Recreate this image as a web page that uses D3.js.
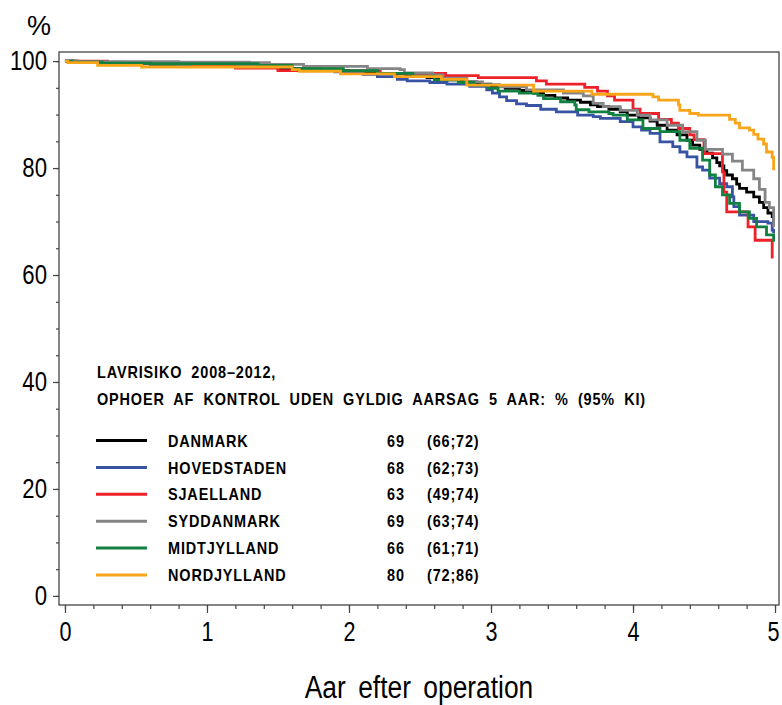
<!DOCTYPE html>
<html>
<head>
<meta charset="utf-8">
<script src="https://cdn.jsdelivr.net/npm/d3@7"></script>
<style>
body { margin: 0; background: #fff; overflow: hidden; }
svg text { font-family: "Liberation Sans", Arial, sans-serif; fill: #000; }
</style>
</head>
<body>
<svg id="chart"></svg>
<script>
// regions, in legend order
const regions = ['DANMARK', 'HOVEDSTADEN', 'SJAELLAND', 'SYDDANMARK', 'MIDTJYLLAND', 'NORDJYLLAND'];
const estimates = ['69', '68', '63', '69', '66', '80'];
const intervals = ['(66;72)', '(62;73)', '(49;74)', '(63;74)', '(61;71)', '(72;86)'];
const colors = ['#000000', '#3953a4', '#ee2129', '#858585', '#128040', '#f9a51a'];

const legendTitle = ['LAVRISIKO 2008\u20132012,', 'OPHOER AF KONTROL UDEN GYLDIG AARSAG 5 AAR: % (95% KI)'];
const xTicks = [0, 1, 2, 3, 4, 5];
const yTicks = [0, 20, 40, 60, 80, 100];

// [years after operation, % still in control]
const danmark = [[0,100],[0.08,99.8],[0.3,99.6],[0.6,99.4],[0.9,99.2],[1.2,98.9],[1.5,98.6],[1.8,98.2],[2.0,97.9],[2.2,97.6],[2.4,97.2],[2.55,96.9],[2.7,96.5],[2.8,96.1],[2.9,95.7],[3.0,95.3],[3.1,94.9],[3.2,94.5],[3.3,94.0],[3.37,93.6],[3.45,93.1],[3.54,92.7],[3.63,92.3],[3.7,91.8],[3.75,91.5],[3.83,91.0],[3.91,90.5],[3.96,89.9],[4.04,89.4],[4.12,88.8],[4.17,88.0],[4.24,87.1],[4.31,86.2],[4.38,85.2],[4.42,84.3],[4.47,83.5],[4.52,82.8],[4.56,81.9],[4.59,81.0],[4.61,80.4],[4.64,79.5],[4.66,78.7],[4.70,78.0],[4.73,77.0],[4.75,76.2],[4.80,75.5],[4.85,74.6],[4.89,73.6],[4.92,72.6],[4.95,71.6],[4.98,70.9],[4.99,69.3]];
const hovedstaden = [[0,100],[0.06,99.8],[0.4,99.5],[0.8,99.3],[1.2,98.9],[1.6,98.5],[1.9,98.0],[2.1,97.5],[2.2,97.1],[2.34,96.6],[2.41,96.3],[2.57,96.0],[2.69,95.7],[2.85,95.3],[2.97,94.6],[3.01,94.0],[3.06,93.3],[3.11,92.6],[3.18,92.0],[3.25,91.7],[3.35,91.0],[3.46,90.5],[3.61,89.9],[3.72,89.6],[3.77,89.3],[3.91,88.7],[4.0,87.7],[4.06,87.1],[4.12,86.5],[4.19,84.9],[4.28,84.0],[4.33,83.0],[4.38,82.1],[4.45,80.2],[4.49,79.6],[4.54,78.1],[4.61,77.1],[4.66,76.5],[4.70,74.6],[4.71,72.8],[4.75,71.2],[4.85,70.0],[4.95,69.7],[4.98,68.4],[4.99,67.8]];
const sjaelland = [[0,100],[0.3,99.6],[0.9,99.2],[1.2,98.7],[1.5,98.2],[2.22,97.7],[2.68,97.3],[2.91,96.9],[3.32,96.3],[3.39,95.7],[3.66,95.1],[3.75,94.4],[3.82,93.5],[3.87,92.7],[4.0,91.0],[4.05,90.2],[4.18,89.1],[4.27,88.4],[4.32,87.4],[4.40,86.2],[4.43,85.3],[4.50,82.7],[4.63,79.3],[4.64,75.5],[4.66,71.8],[4.81,69.0],[4.86,66.5],[4.98,63.1]];
const syddanmark = [[0,100],[0.1,99.9],[0.8,99.8],[1.30,99.7],[1.44,99.4],[1.68,99.0],[2.13,98.6],[2.36,98.4],[2.39,97.8],[2.59,97.4],[2.66,96.8],[2.83,96.1],[2.94,95.6],[3.06,95.2],[3.25,94.6],[3.51,94.0],[3.65,93.5],[3.72,92.1],[3.79,91.5],[3.91,90.8],[4.03,89.9],[4.12,89.0],[4.24,88.0],[4.35,86.8],[4.45,85.2],[4.51,83.5],[4.63,82.6],[4.70,81.3],[4.77,79.6],[4.85,78.0],[4.89,76.0],[4.93,73.6],[4.96,72.6],[4.99,69.0]];
const midtjylland = [[0,100],[0.05,99.8],[0.26,99.6],[0.6,99.5],[1.36,99.2],[1.6,98.6],[1.96,98.2],[2.2,97.7],[2.45,97.2],[2.6,96.5],[2.77,96.0],[2.88,95.5],[2.98,94.9],[3.05,94.4],[3.2,94.0],[3.33,93.6],[3.37,93.0],[3.49,92.4],[3.59,91.8],[3.6,90.9],[3.69,90.5],[3.83,90.2],[3.86,89.9],[3.96,89.0],[4.07,87.4],[4.19,86.8],[4.33,85.2],[4.40,83.7],[4.49,81.5],[4.54,78.7],[4.58,76.5],[4.63,75.0],[4.68,73.4],[4.75,71.8],[4.82,70.6],[4.87,69.0],[4.94,67.5],[4.99,66.2]];
const nordjylland = [[0,100],[0.02,99.7],[0.23,99.2],[0.54,98.9],[1.60,98.4],[1.65,98.1],[1.94,97.6],[2.32,97.1],[2.65,96.6],[2.83,95.5],[3.30,94.4],[3.71,93.8],[4.14,93.3],[4.18,92.7],[4.32,91.8],[4.33,90.8],[4.40,90.2],[4.46,89.9],[4.68,89.1],[4.72,88.4],[4.75,87.5],[4.82,87.1],[4.85,86.3],[4.88,85.4],[4.92,84.5],[4.94,83.0],[4.98,82.0],[4.99,79.6]];

const series = [danmark, hovedstaden, sjaelland, syddanmark, midtjylland, nordjylland];

// squeeze text horizontally, the original uses a narrow face
function condense(sel, k) {
    sel.each(function () {
        const w = this.getComputedTextLength();
        d3.select(this)
            .attr('textLength', w * k)
            .attr('lengthAdjust', 'spacingAndGlyphs');
    });
}

class SurvivalChart {
    constructor (config, data) {
        this.config = {
            parent: config.parent,
            width: config.width || 782,
            height: config.height || 705,
            margin: config.margin || {top:52, right:3, bottom:100, left:59},
            xlabel: config.xlabel || '',
            ylabel: config.ylabel || ''
        };
        this.data = data;
        this.init();
    }

    init() {
        let self = this;

        self.svg = d3.select(self.config.parent)
            .attr('width', self.config.width)
            .attr('height', self.config.height);

        self.chart = self.svg.append('g')
            .attr('transform', `translate(${self.config.margin.left}, ${self.config.margin.top})`);

        self.inner_width = self.config.width - self.config.margin.left - self.config.margin.right;
        self.inner_height = self.config.height - self.config.margin.top - self.config.margin.bottom;

        self.xscale = d3.scaleLinear()
            .domain([-0.042, 5.028])
            .range([0, self.inner_width]);

        self.yscale = d3.scaleLinear()
            .domain([-1.7, 101.7])
            .range([self.inner_height, 0]);

        self.line = d3.line()
            .curve(d3.curveStepAfter)
            .x(d => self.xscale(d[0]))
            .y(d => self.yscale(d[1]));

        self.xaxis = d3.axisBottom(self.xscale)
            .tickValues(xTicks)
            .tickFormat(d3.format('d'))
            .tickSize(8)
            .tickPadding(9)
            .tickSizeOuter(0);

        self.xaxis_minor = d3.axisBottom(self.xscale)
            .tickValues(d3.range(0, 5.01, 0.2))
            .tickFormat('')
            .tickSize(4)
            .tickSizeOuter(0);

        self.yaxis = d3.axisLeft(self.yscale)
            .tickValues(yTicks)
            .tickSize(6)
            .tickPadding(6)
            .tickSizeOuter(0);

        self.yaxis_minor = d3.axisLeft(self.yscale)
            .tickValues(d3.range(0, 101, 5))
            .tickFormat('')
            .tickSize(3)
            .tickSizeOuter(0);

        self.xaxis_group = self.chart.append('g')
            .attr('transform', `translate(0, ${self.inner_height})`);
        self.xaxis_minor_group = self.chart.append('g')
            .attr('transform', `translate(0, ${self.inner_height})`);
        self.yaxis_group = self.chart.append('g');
        self.yaxis_minor_group = self.chart.append('g');

        self.svg.append('text')
            .attr('class', 'xlabel')
            .style('font-size', '31px')
            .style('word-spacing', '6px')
            .attr('x', 419)
            .attr('y', 698)
            .attr('text-anchor', 'middle')
            .text(self.config.xlabel);

        self.svg.append('text')
            .attr('class', 'ylabel')
            .style('font-size', '27px')
            .attr('x', 39)
            .attr('y', 35)
            .attr('text-anchor', 'middle')
            .text(self.config.ylabel);
    }

    render() {
        let self = this;

        self.chart.append('rect')
            .attr('width', self.inner_width)
            .attr('height', self.inner_height)
            .attr('fill', 'none')
            .attr('stroke', '#444')
            .attr('stroke-width', 1.3);

        self.chart.selectAll('.km')
            .data(self.data)
            .join('path')
            .attr('class', 'km')
            .attr('d', d => self.line(d))
            .attr('fill', 'none')
            .attr('stroke', (d, i) => colors[i])
            .attr('stroke-width', 2.8);

        self.xaxis_group.call(self.xaxis);
        self.xaxis_minor_group.call(self.xaxis_minor);
        self.yaxis_group.call(self.yaxis);
        self.yaxis_minor_group.call(self.yaxis_minor);

        [self.xaxis_group, self.xaxis_minor_group, self.yaxis_group, self.yaxis_minor_group].forEach(g => {
            g.select('.domain').remove();
            g.selectAll('line').attr('stroke', '#444').attr('stroke-width', 1.2);
        });
        self.xaxis_group.selectAll('text').style('font-size', '27px').attr('fill', '#000');
        self.yaxis_group.selectAll('text').style('font-size', '27px').attr('fill', '#000');
        // keep the last x label inside the window
        self.xaxis_group.selectAll('text').filter(d => d === 5).attr('dx', '-2');
        condense(self.xaxis_group.selectAll('text'), 0.8);
        condense(self.yaxis_group.selectAll('text'), 0.82);
        condense(self.svg.selectAll('.xlabel'), 0.85);

        // legend inside the plot
        const legend = self.svg.append('g')
            .style('font-size', '17px')
            .style('font-weight', 'bold')
            .style('letter-spacing', '1px')
            .style('word-spacing', '5px');

        legend.selectAll('.ltitle')
            .data(legendTitle)
            .join('text')
            .attr('class', 'ltitle')
            .attr('x', 97)
            .attr('y', (d, i) => 378 + i * 27)
            .text(d => d);

        const rows = legend.selectAll('.row')
            .data(regions)
            .join('g')
            .attr('class', 'row')
            .attr('transform', (d, i) => `translate(0, ${440.5 + i * 26.9})`);

        rows.append('line')
            .attr('x1', 96).attr('x2', 147)
            .attr('stroke', (d, i) => colors[i])
            .attr('stroke-width', 3);
        rows.append('text').attr('x', 168).attr('dy', '0.36em').text(d => d);
        rows.append('text').attr('x', 387).attr('dy', '0.36em').text((d, i) => estimates[i]);
        rows.append('text').attr('x', 427).attr('dy', '0.36em').text((d, i) => intervals[i]);

        condense(legend.selectAll('text'), 0.85);
    }
}

const chart = new SurvivalChart({
    parent: '#chart',
    width: 782,
    height: 705,
    margin: {top:52, right:3, bottom:100, left:59},
    xlabel: 'Aar efter operation',
    ylabel: '%'
}, series);
chart.render();
</script>
</body>
</html>
